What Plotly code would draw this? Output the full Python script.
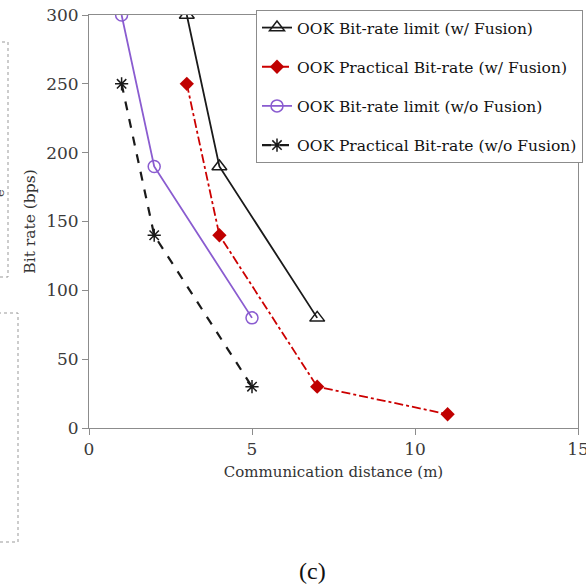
import plotly.graph_objects as go

# Data
dist_limit_fusion = [3, 4, 7]
rate_limit_fusion = [300, 190, 80]
dist_prac_fusion = [3, 4, 7, 11]
rate_prac_fusion = [250, 140, 30, 10]
dist_limit_nofusion = [1, 2, 5]
rate_limit_nofusion = [300, 190, 80]
dist_prac_nofusion = [1, 2, 5]
rate_prac_nofusion = [250, 140, 30]

x_ticks = [0, 5, 10, 15]
y_ticks = [0, 50, 100, 150, 200, 250, 300]

names = [
    "OOK Bit-rate limit (w/ Fusion)",
    "OOK Practical Bit-rate (w/ Fusion)",
    "OOK Bit-rate limit (w/o Fusion)",
    "OOK Practical Bit-rate (w/o Fusion)",
]

SERIF = "DejaVu Serif"
fig = go.Figure()

fig.add_trace(go.Scatter(
    x=dist_limit_fusion, y=rate_limit_fusion, name=names[0], mode="lines+markers",
    legendgroup="a",
    line=dict(color="#1a1a1a", width=1.8),
    marker=dict(symbol="triangle-up-open", size=13, color="#1a1a1a", line=dict(width=1.5)),
))
fig.add_trace(go.Scatter(
    x=dist_prac_fusion, y=rate_prac_fusion, name=names[1], mode="lines+markers",
    legendgroup="b",
    line=dict(color="#cc0000", width=1.8, dash="dashdot"),
    marker=dict(symbol="diamond", size=11, color="#c00000"),
))
fig.add_trace(go.Scatter(
    x=dist_limit_nofusion, y=rate_limit_nofusion, name=names[2], mode="lines+markers",
    legendgroup="c",
    line=dict(color="#8a5cd0", width=1.8),
    marker=dict(symbol="circle-open", size=12, color="#8a5cd0", line=dict(width=1.5)),
))
fig.add_trace(go.Scatter(
    x=dist_prac_nofusion, y=rate_prac_nofusion, name=names[3], mode="lines+markers",
    legendgroup="d",
    line=dict(color="#1a1a1a", width=2.2, dash="dash"),
    marker=dict(symbol="asterisk-open", size=11, color="#1a1a1a", line=dict(width=1.5, color="#1a1a1a")),
))

L, R, T, B = 89, 8, 15, 157
W, H = 586, 585
pw = W - L - R
ph = H - T - B

def px(xp):
    return (xp - L) / pw

def py(yp):
    return (H - B - yp) / ph

axis_common = dict(
    showline=True, linecolor="#8c8c8c", linewidth=1, mirror=True,
    showgrid=False, zeroline=False, ticks="outside", ticklen=6,
    tickcolor="#8c8c8c", tickwidth=1, automargin=False,
    tickfont=dict(family=SERIF, size=17, color="#3a3a3a"),
)

fig.update_layout(
    width=W, height=H,
    margin=dict(l=L, r=R, t=T, b=B, autoexpand=False),
    paper_bgcolor="white", plot_bgcolor="white",
    xaxis=dict(range=[0, 15], tickvals=x_ticks, ticklabeloverflow="allow", **axis_common,
               title=dict(text="Communication distance (m)", standoff=8,
                          font=dict(family=SERIF, size=15, color="#333333"))),
    yaxis=dict(range=[0, 300], tickvals=y_ticks, **axis_common,
               title=dict(text="Bit rate (bps)", standoff=6,
                          font=dict(family=SERIF, size=15.5, color="#333333"))),
    legend=dict(
        x=px(256), y=py(10), xanchor="left", yanchor="top",
        bgcolor="white", bordercolor="#8c8c8c", borderwidth=1,
        font=dict(family=SERIF, size=15.5, color="#111111"),
        itemwidth=30, tracegroupgap=16,
    ),
    showlegend=True,
)

# Dashed boxes from neighbouring panels (partially visible)
fig.add_shape(type="rect", xref="paper", yref="paper",
              x0=px(-60), x1=px(8), y0=py(277), y1=py(42),
              line=dict(color="#999999", width=1, dash="3px,3px"))
fig.add_shape(type="rect", xref="paper", yref="paper",
              x0=px(-60), x1=px(18), y0=py(542), y1=py(313),
              line=dict(color="#999999", width=1, dash="3px,3px"))

fig.add_annotation(xref="paper", yref="paper", x=px(0), y=py(193), text="e",
                   textangle=-90, showarrow=False, xanchor="center", yanchor="middle",
                   font=dict(family=SERIF, size=13, color="#444444"))

fig.add_annotation(xref="paper", yref="paper", x=px(312), y=py(571), text="(c)",
                   showarrow=False, xanchor="center", yanchor="middle",
                   font=dict(family="Liberation Serif", size=24, color="#111111"))

fig.write_html("out.html")
